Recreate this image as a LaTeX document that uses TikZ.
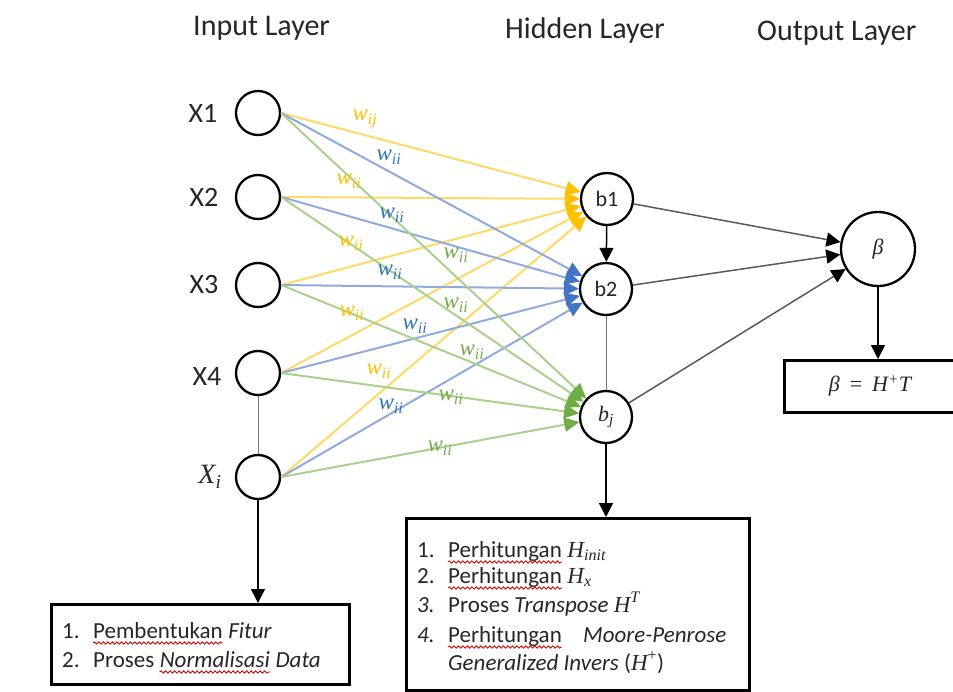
\documentclass[tikz,border=0pt]{standalone}
\usepackage{fontspec}
\setmainfont{Carlito}
\newfontfamily\mfont{Liberation Serif}
\newcommand\mv[1]{{\mfont\itshape #1}}
\usetikzlibrary{arrows.meta,decorations.pathmorphing}

\definecolor{ylw}{HTML}{FFC000}
\definecolor{ylwl}{HTML}{FFD966}
\definecolor{blu}{HTML}{4472C4}
\definecolor{blul}{HTML}{8FAADC}
\definecolor{blut}{HTML}{2E75B6}
\definecolor{grn}{HTML}{70AD47}
\definecolor{grnl}{HTML}{A9D18E}
\definecolor{ink}{HTML}{262626}

\begin{document}
\begin{tikzpicture}[x=1pt,y=-1pt,
  every node/.style={inner sep=0pt},
  inp/.style={circle,draw,line width=2.3pt,minimum size=44pt,fill=white},
  hid/.style={circle,draw,line width=2.3pt,minimum size=52pt,fill=white,
    font=\fontsize{22}{25}\selectfont,text=ink},
  outn/.style={circle,draw,line width=2.3pt,minimum size=74pt,fill=white,
    font=\fontsize{22}{26}\selectfont,text=ink},
  title/.style={font=\fontsize{30}{34}\selectfont,text=ink,anchor=base west},
  xlab/.style={font=\fontsize{28}{32}\selectfont,text=ink},
  wlab/.style={font=\fontsize{23}{26}\selectfont},
  yedge/.style={draw=ylwl,line width=2pt,-{Triangle[length=15pt,width=14pt,color=ylw]}},
  bedge/.style={draw=blul,line width=2pt,-{Triangle[length=15pt,width=14pt,color=blu]}},
  gedge/.style={draw=grnl,line width=2pt,-{Triangle[length=15pt,width=14pt,color=grn]}},
  kedge/.style={draw=black!65,line width=1.5pt,-{Triangle[length=14pt,width=14pt,color=black]}},
  dedge/.style={draw=black,line width=1.5pt,-{Triangle[length=14pt,width=14pt]}},
  thin/.style={draw=black!55,line width=0.8pt},
  txt/.style={font=\fontsize{23}{27}\selectfont,anchor=base west,text=ink},
  squig/.style={draw=red!80!black,line width=0.8pt,decorate,
    decoration={snake,amplitude=1.2pt,segment length=4.5pt}},
  box/.style={draw,line width=2.5pt,anchor=north west}
]
\useasboundingbox (0,0) rectangle (953,691);

% layer titles
\node[title] at (193,35) {Input Layer};
\node[title] at (505,38) {Hidden Layer};
\node[title] at (757,40) {Output Layer};

% input neurons and their labels
\node[inp] (in1) at (258,113) {};
\node[inp] (in2) at (258,197) {};
\node[inp] (in3) at (258,285) {};
\node[inp] (in4) at (258,373) {};
\node[inp] (in5) at (258,477) {};
\node[xlab] at (203,113) {X1};
\node[xlab] at (204,197) {X2};
\node[xlab] at (204,285) {X3};
\node[xlab] at (207,377) {X4};
\node[xlab] at (210,477) {\mv{X\textsubscript{i}}};

% hidden neurons
\node[hid] (h1) at (607,199) {b1};
\node[hid] (h2) at (606,289) {b2};
\node[hid] (hj) at (606,417) {\mv{b\textsubscript{j}}};

% output neuron
\node[outn] (beta) at (878,249) {\mv{β}};

% ellipsis links
\draw[thin] (in4) -- (in5);
\draw[thin] (h2) -- (hj);

% weighted connections
\foreach \i in {1,...,5} {
  \draw[yedge] (in\i.east) -- (h1);
}
\foreach \i in {1,...,5} {
  \draw[bedge] (in\i.east) -- (h2);
}
\foreach \i in {1,...,5} {
  \draw[gedge] (in\i.east) -- (hj);
}

% weight labels
\begin{scope}[every node/.append style={wlab,text=ylw}]
  \node at (365,119) {\mv{w\textsubscript{ij}}};
  \node at (349,181) {\mv{w\textsubscript{ii}}};
  \node at (351,243) {\mv{w\textsubscript{ii}}};
  \node at (352,313) {\mv{w\textsubscript{ii}}};
  \node at (379,371) {\mv{w\textsubscript{ii}}};
\end{scope}
\begin{scope}[every node/.append style={wlab,text=blut}]
  \node at (389,157) {\mv{w\textsubscript{ii}}};
  \node at (392,215) {\mv{w\textsubscript{ii}}};
  \node at (390,272) {\mv{w\textsubscript{ii}}};
  \node at (415,326) {\mv{w\textsubscript{ii}}};
  \node at (391,406) {\mv{w\textsubscript{ii}}};
\end{scope}
\begin{scope}[every node/.append style={wlab,text=grn}]
  \node at (456,255) {\mv{w\textsubscript{ii}}};
  \node at (456,305) {\mv{w\textsubscript{ii}}};
  \node at (472,352) {\mv{w\textsubscript{ii}}};
  \node at (451,397) {\mv{w\textsubscript{ii}}};
  \node at (440,448) {\mv{w\textsubscript{ii}}};
\end{scope}

% hidden to output
\draw[dedge] (h1) -- (h2);
\draw[kedge] (h1) -- (beta);
\draw[kedge] (h2) -- (beta);
\draw[kedge] (hj) -- (beta);

% output formula box
\begin{scope}
  \clip (0,0) rectangle (953,691);
  \node[box,minimum width=185pt,minimum height=52pt] (fbox) at (783,359) {};
\end{scope}
\node[font=\fontsize{22}{26}\selectfont,text=ink] at (870,386)
  {\mv{β}\ \ {\mfont =}\ \ \mv{H\textsuperscript{+}T}};
\draw[dedge] (beta) -- (beta |- fbox.north);

% preprocessing box
\node[box,minimum width=298pt,minimum height=80pt] (lbox) at (50,603) {};
\draw[dedge] (in5) -- (in5 |- lbox.north);
\node[txt] at (62,638) {1.};
\node[txt] (l1a) at (93,638) {Pembentukan};
\node[txt] at (l1a.base east) {\ \textit{Fitur}};
\node[txt] at (62,667) {2.};
\node[txt] (l2a) at (93,667) {Proses\ \null};
\node[txt] (l2b) at (l2a.base east) {\textit{Normalisasi}};
\node[txt] at (l2b.base east) {\ \textit{Data}};
\draw[squig] ([yshift=-5pt]l1a.base west) -- ([yshift=-5pt]l1a.base east);
\draw[squig] ([yshift=-5pt]l2b.base west) -- ([yshift=-5pt]l2b.base east);

% training steps box
\node[box,minimum width=343pt,minimum height=172pt] (mbox) at (405,517) {};
\draw[dedge] (hj) -- (hj |- mbox.north);
\node[txt] at (417,557) {1.};
\node[txt] (m1a) at (448,557) {Perhitungan};
\node[txt] at (m1a.base east) {\ \mv{H\textsubscript{init}}};
\node[txt] at (417,583) {2.};
\node[txt] (m2a) at (448,583) {Perhitungan};
\node[txt] at (m2a.base east) {\ \mv{H\textsubscript{x}}};
\node[txt] at (417,612) {\textit{3.}};
\node[txt] at (448,612) {Proses \textit{Transpose} \mv{H\textsuperscript{T}}};
\node[txt] at (417,642) {\textit{4.}};
\node[txt] (m4a) at (448,642) {Perhitungan};
\node[txt] at (583,642) {\textit{Moore-Penrose}};
\node[txt] at (448,670) {\textit{Generalized Invers} (\mv{H}\textsuperscript{\mfont +})};
\draw[squig] ([yshift=-5pt]m1a.base west) -- ([yshift=-5pt]m1a.base east);
\draw[squig] ([yshift=-5pt]m2a.base west) -- ([yshift=-5pt]m2a.base east);
\draw[squig] ([yshift=-5pt]m4a.base west) -- ([yshift=-5pt]m4a.base east);
\end{tikzpicture}
\end{document}
